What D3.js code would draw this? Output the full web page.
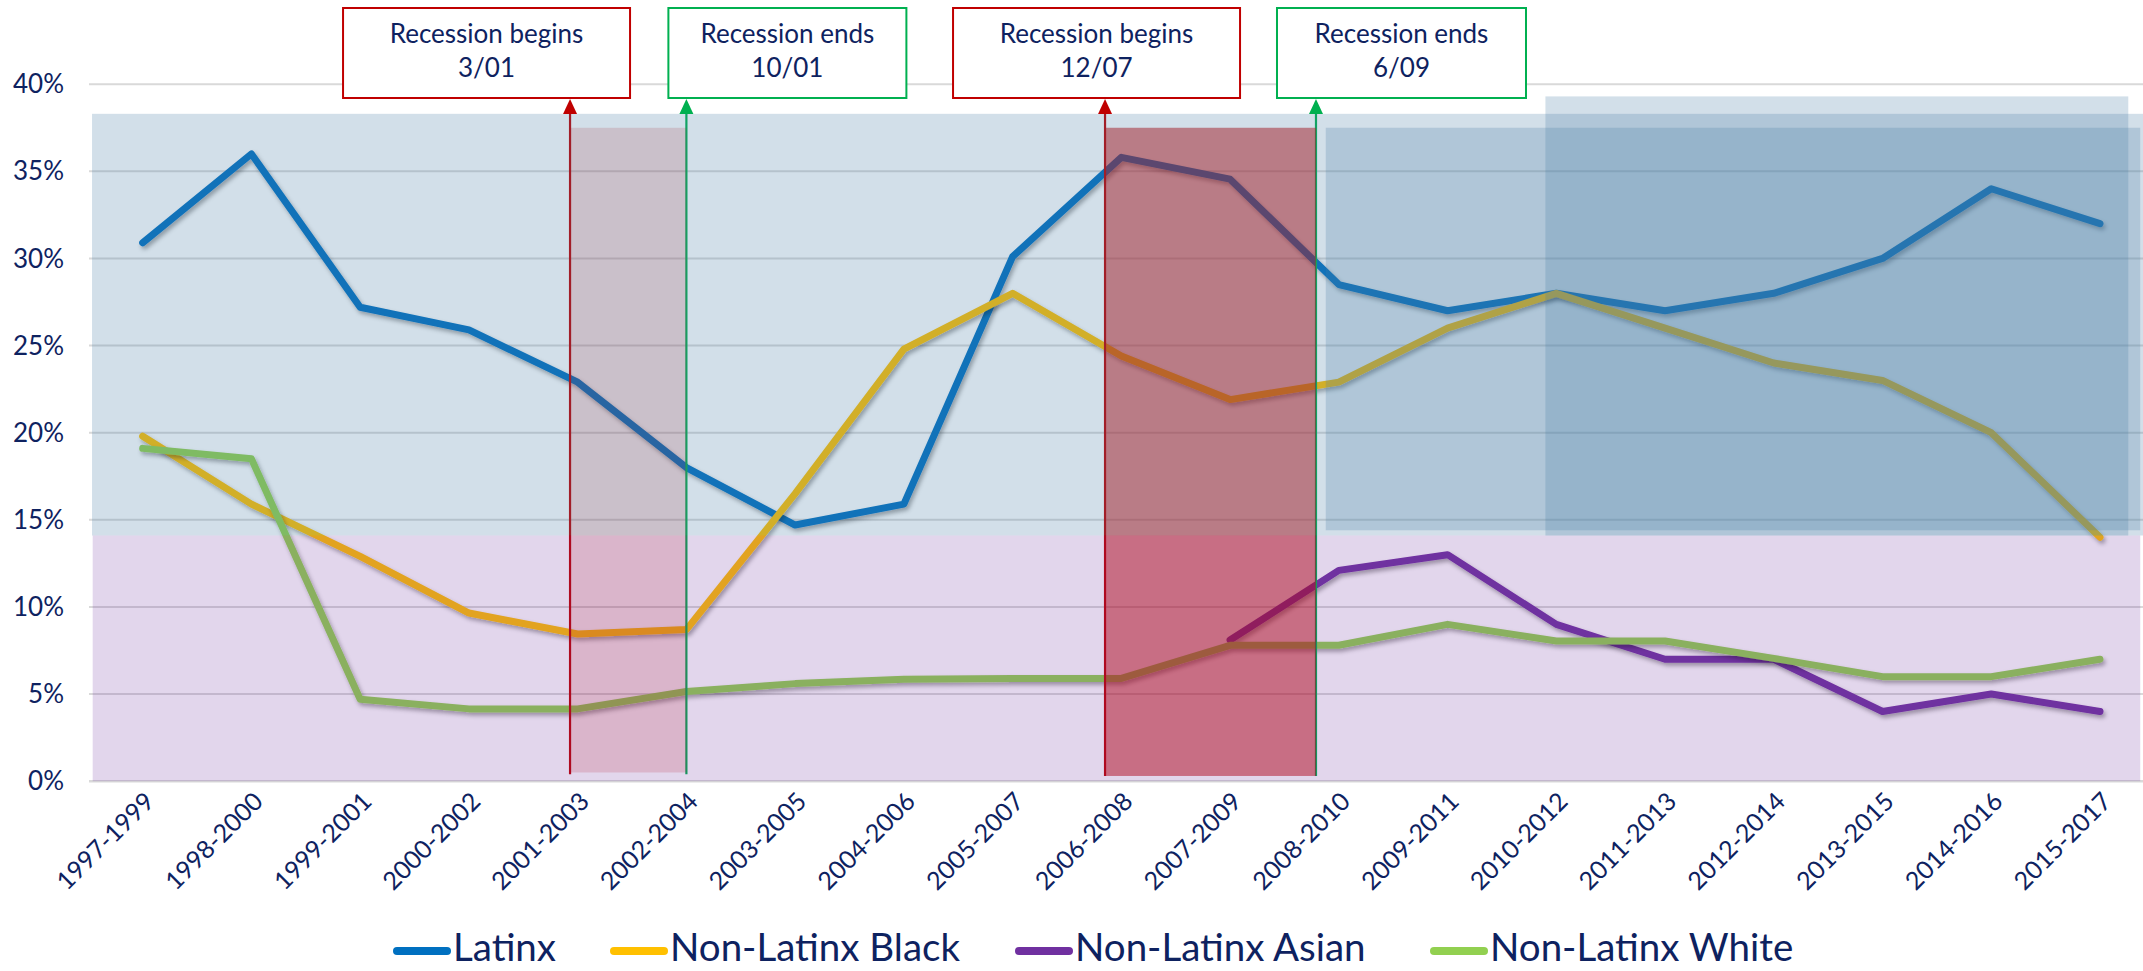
<!DOCTYPE html>
<html><head><meta charset="utf-8">
<script src="https://cdn.jsdelivr.net/npm/d3@7"></script>
<style>
body{margin:0;background:#fff}
svg{display:block}
text{font-family:Lato,'Open Sans',sans-serif;fill:#0e2260}
</style>
</head><body>
<svg id="c" width="2143" height="971"></svg>
<script>
// ---------- data ----------
const categories = ["1997-1999","1998-2000","1999-2001","2000-2002","2001-2003","2002-2004","2003-2005","2004-2006","2005-2007","2006-2008","2007-2009","2008-2010","2009-2011","2010-2012","2011-2013","2012-2014","2013-2015","2014-2016","2015-2017"];
const latinx = [30.9,36.0,27.2,25.9,22.9,18.0,14.7,15.9,30.1,35.8,34.55,28.5,27.0,28.0,27.0,28.0,30.0,34.0,32.0];
const nlBlack = [19.8,15.9,12.9,9.65,8.45,8.7,16.5,24.8,28.0,24.4,21.9,22.9,26.0,28.0,26.0,24.0,23.0,20.0,14.0];
const nlAsian = [null,null,null,null,null,null,null,null,null,null,8.1,12.1,13.0,9.0,7.0,7.0,4.0,5.0,4.0];
const nlWhite = [19.1,18.5,4.7,4.15,4.15,5.15,5.6,5.85,5.9,5.9,7.8,7.8,9.0,8.05,8.05,7.05,6.0,6.0,7.0];
const seriesNames = ["Latinx","Non-Latinx Black","Non-Latinx Asian","Non-Latinx White"];
const seriesColors = ["#0070C0","#FFC000","#7030A0","#92D050"];
const yTicks = [0,5,10,15,20,25,30,35,40];
// recession markers: position in category units
const recessionTitles = ["Recession begins","Recession ends","Recession begins","Recession ends"];
const recessionDates = ["3/01","10/01","12/07","6/09"];
const recessionAt = [3.93,5.0,8.85,10.79];
const recessionKind = ["begin","end","begin","end"];

// ---------- layout ----------
const W = 2143, H = 971;
const svg = d3.select("#c");
const x = d3.scaleLinear().domain([0, categories.length-1]).range([142.7, 2100]);
const y = d3.scaleLinear().domain([0, 40]).range([781.2, 84.2]);
const RED = "#C00000", GREEN = "#00B050";

const defs = svg.append("defs");
const f = defs.append("filter").attr("id","sh").attr("x","-5%").attr("y","-10%").attr("width","110%").attr("height","130%");
f.append("feDropShadow").attr("dx",2).attr("dy",3).attr("stdDeviation",2.2).attr("flood-color","#000").attr("flood-opacity",0.35);

// gridlines
svg.append("g").selectAll("line").data(yTicks).join("line")
  .attr("x1",89).attr("x2",W).attr("y1",d=>y(d)).attr("y2",d=>y(d))
  .attr("stroke","#d9d9d9").attr("stroke-width",d=>d===0?2.5:2);

// series lines
const allSeries = [latinx, nlBlack, nlAsian, nlWhite];
const line = d3.line().defined(d=>d!=null).x((d,i)=>x(i)).y(d=>y(d));
const gS = svg.append("g");
allSeries.forEach((s,k)=>{
  gS.append("path").attr("d", line(s)).attr("fill","none")
    .attr("stroke", seriesColors[k]).attr("stroke-width",7)
    .attr("stroke-linejoin","round").attr("stroke-linecap","round")
    .attr("filter","url(#sh)");
});

// recession vertical lines (under shading)
const lineBottom = [0.4,0.4,0.3,0.3];
svg.append("g").selectAll("line").data(recessionAt).join("line")
  .attr("x1",d=>x(d)).attr("x2",d=>x(d))
  .attr("y1",108).attr("y2",(d,i)=>y(lineBottom[i]))
  .attr("stroke",(d,i)=>recessionKind[i]==="begin"?RED:GREEN).attr("stroke-width",2.2);

// recession shaded periods (red)
const redRects = [{x0:recessionAt[0],x1:recessionAt[1],y0:0.5,y1:37.5,op:0.16},
                  {x0:recessionAt[2],x1:recessionAt[3],y0:0.3,y1:37.5,op:0.51}];
svg.append("g").selectAll("rect").data(redRects).join("rect")
  .attr("x",d=>x(d.x0)).attr("width",d=>x(d.x1)-x(d.x0))
  .attr("y",d=>y(d.y1)).attr("height",d=>y(d.y0)-y(d.y1))
  .attr("fill",RED).attr("fill-opacity",d=>d.op);

// translucent bands on top
const bands = [
  {x0:-0.466,x1:18.6,y0:14.1,y1:38.3,c:"rgb(71,124,165)",op:0.245},
  {x0:-0.46,x1:18.37,y0:0,y1:14.1,c:"#7030A0",op:0.2},
  {x0:10.88,x1:18.37,y0:14.4,y1:37.5,c:"rgb(71,124,165)",op:0.245},
  {x0:12.9,x1:18.26,y0:14.1,y1:39.3,c:"rgb(71,124,165)",op:0.245}
];
svg.append("g").selectAll("rect").data(bands).join("rect")
  .attr("x",d=>x(d.x0)).attr("width",d=>x(d.x1)-x(d.x0))
  .attr("y",d=>y(d.y1)).attr("height",d=>y(d.y0)-y(d.y1))
  .attr("fill",d=>d.c).attr("fill-opacity",d=>d.op);

// arrow heads
svg.append("g").selectAll("path").data(recessionAt).join("path")
  .attr("d",d=>{const cx=x(d);return `M${cx},99 L${cx-7},114 L${cx+7},114 Z`;})
  .attr("fill",(d,i)=>recessionKind[i]==="begin"?RED:GREEN);

// annotation boxes
const boxLeft = [-227,-18,-152,-39];
const boxWidth = [287,238,287,249];
const gB = svg.append("g");
recessionAt.forEach((a,i)=>{
  const bx = x(a)+boxLeft[i], bw = boxWidth[i];
  const col = recessionKind[i]==="begin"?RED:GREEN;
  gB.append("rect").attr("x",bx).attr("y",8).attr("width",bw).attr("height",90)
    .attr("fill","#fff").attr("stroke",col).attr("stroke-width",2);
  gB.append("text").attr("x",bx+bw/2).attr("y",43).attr("text-anchor","middle")
    .attr("font-size",26).text(recessionTitles[i]);
  gB.append("text").attr("x",bx+bw/2).attr("y",77).attr("text-anchor","middle")
    .attr("font-size",26).text(recessionDates[i]);
});

// y axis labels
svg.append("g").selectAll("text").data(yTicks).join("text")
  .attr("x",64).attr("y",d=>y(d)).attr("dy","0.35em").attr("text-anchor","end")
  .attr("font-size",26).text(d=>d+"%");

// x axis labels
svg.append("g").selectAll("text").data(categories).join("text")
  .attr("transform",(d,i)=>`translate(${x(i)+13},${803}) rotate(-45)`)
  .attr("text-anchor","end").attr("font-size",25).text(d=>d);

// legend
const legX = [393,610,1015,1430];
const gL = svg.append("g");
seriesNames.forEach((n,i)=>{
  gL.append("line").attr("x1",legX[i]+4).attr("x2",legX[i]+54).attr("y1",951).attr("y2",951)
    .attr("stroke",seriesColors[i]).attr("stroke-width",8).attr("stroke-linecap","round");
  gL.append("text").attr("x",legX[i]+60).attr("y",961).attr("font-size",38.5).text(n);
});
</script>
</body></html>
